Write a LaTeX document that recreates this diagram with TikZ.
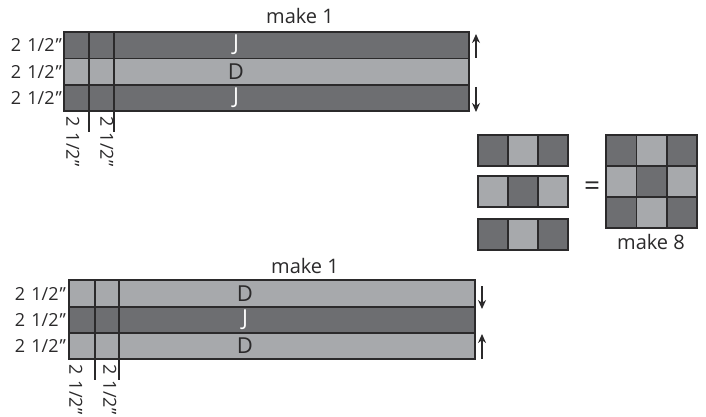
\documentclass[tikz,border=0pt]{standalone}
\usepackage{fontspec}
\setmainfont{Open Sans}
\usetikzlibrary{arrows.meta}
\definecolor{darkfab}{HTML}{6D6E71}
\definecolor{lightfab}{HTML}{A7A9AC}
\definecolor{seam}{HTML}{2B2A2B}
\tikzset{
  darkpc/.style={fill=darkfab, draw=seam, line width=1.3pt},
  lightpc/.style={fill=lightfab, draw=seam, line width=1.3pt},
  seamline/.style={draw=seam, line width=1.3pt},
  sizelbl/.style={font=\fontsize{18}{18}\selectfont, inner sep=1pt, text=seam},
  note/.style={font=\fontsize{20}{20}\selectfont, inner sep=1pt, text=seam},
  letter/.style={font=\fontsize{22}{22}\selectfont, inner sep=0pt},
  press/.style={-{Stealth[length=9pt,width=8pt]}, line width=1.5pt, draw=seam}
}
\newcommand{\half}{2\hspace{0.35em}1/2\hspace{0.05em}”}
\begin{document}
\begin{tikzpicture}[x=1pt,y=-1pt]
    \useasboundingbox (0,0) rectangle (706,417);
    % top strip set
    \node[note] (make1a) at (300,16) {make 1};
    \draw[darkpc]  (64,32) rectangle (469,58.5);
    \draw[lightpc] (64,58.5) rectangle (469,85);
    \draw[darkpc]  (64,85) rectangle (469,111);
    \draw[seamline] (89,32) -- (89,132); % cut
    \draw[seamline] (114,32) -- (114,132); % cut
    \node[letter, text=white] (jA) at (236,45) {J};
    \node[letter, text=seam] (dA) at (236,72) {D};
    \node[letter, text=white] (jB) at (236,98) {J};
    \node[sizelbl, anchor=east] (wa1) at (63,45) {\half};
    \node[sizelbl, anchor=east] (wa2) at (63,72) {\half};
    \node[sizelbl, anchor=east] (wa3) at (63,98) {\half};
    \node[sizelbl, rotate=-90, anchor=west] (ca1) at (73,115) {\half};
    \node[sizelbl, rotate=-90, anchor=west] (ca2) at (107,115) {\half};
    \coordinate (upA0) at (476,58);   \coordinate (upA1) at (476,34);
    \coordinate (dnA0) at (476,87);   \coordinate (dnA1) at (476,112);
    \draw[press] (upA0) -- (upA1); % press up
    \draw[press] (dnA0) -- (dnA1); % press down

    % small strips
    \foreach \y/\a/\b in {135/darkpc/lightpc, 176/lightpc/darkpc, 219/darkpc/lightpc}{
      \draw[\a] (478,\y) rectangle (508,\y+31);
      \draw[\b] (508,\y) rectangle (538,\y+31);
      \draw[\a] (538,\y) rectangle (568,\y+31);
    }
    \node[note, font=\fontsize{28}{28}\selectfont] (eq) at (592,189) {=};

    % nine patch block
    \foreach \y/\a/\b in {135/darkpc/lightpc, 166/lightpc/darkpc, 197/darkpc/lightpc}{
      \draw[\a] (606,\y) rectangle (636.5,\y+31);
      \draw[\b] (636.5,\y) rectangle (667,\y+31);
      \draw[\a] (667,\y) rectangle (697,\y+31);
    }
    \node[note] (make8) at (651,242) {make 8};

    % bottom strip set
    \node[note] (make1b) at (305,266) {make 1};
    \draw[lightpc] (69,280) rectangle (475,307);
    \draw[darkpc]  (69,307) rectangle (475,333);
    \draw[lightpc] (69,333) rectangle (475,359);
    \draw[seamline] (95,280) -- (95,380); % cut
    \draw[seamline] (119,280) -- (119,380); % cut
    \node[letter, text=seam] (dC) at (245,294) {D};
    \node[letter, text=white] (jC) at (245,320) {J};
    \node[letter, text=seam] (dD) at (245,346) {D};
    \node[sizelbl, anchor=east] (wb1) at (67,294) {\half};
    \node[sizelbl, anchor=east] (wb2) at (67,320) {\half};
    \node[sizelbl, anchor=east] (wb3) at (67,346) {\half};
    \node[sizelbl, rotate=-90, anchor=west] (cb1) at (76,363) {\half};
    \node[sizelbl, rotate=-90, anchor=west] (cb2) at (110,363) {\half};
    \coordinate (dnB0) at (482,286);  \coordinate (dnB1) at (482,309);
    \coordinate (upB0) at (482,359);  \coordinate (upB1) at (482,334);
    \draw[press] (dnB0) -- (dnB1); % press down
    \draw[press] (upB0) -- (upB1); % press up
\end{tikzpicture}
\end{document}
